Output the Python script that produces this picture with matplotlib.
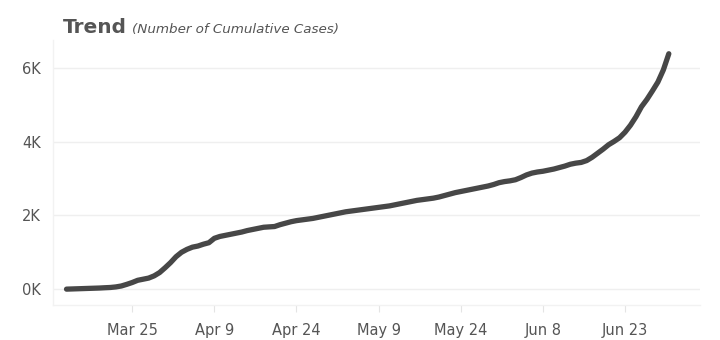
import numpy as np
import pandas as pd
import matplotlib
matplotlib.use("Agg")
import matplotlib.pyplot as plt
import matplotlib.dates as mdates
from matplotlib.ticker import FuncFormatter

# cumulative cases, one value per day from Mar 13 to Jul 1
start_date = "2020-03-13"
cases = [
    0, 5, 10, 15, 20, 25, 30, 38, 45, 60, 85, 130, 180, 240, 270, 300, 360, 450, 580,  # Mar
    720, 880, 1000, 1080, 1140, 1170, 1220, 1260, 1380, 1430, 1460, 1490, 1520, 1550, 1590,
    1620, 1650, 1680, 1690, 1700, 1750, 1790, 1830, 1860, 1880, 1900, 1920, 1950, 1980, 2010,  # Apr
    2040, 2070, 2100, 2120, 2140, 2160, 2180, 2200, 2220, 2240, 2260, 2290, 2320, 2350, 2380,
    2410, 2430, 2450, 2470, 2500, 2540, 2580, 2620, 2650, 2680, 2710, 2740, 2770, 2800, 2840, 2890,  # May
    2920, 2940, 2970, 3030, 3100, 3150, 3180, 3200, 3230, 3260, 3300, 3340, 3390, 3420, 3440,
    3490, 3580, 3690, 3800, 3920, 4010, 4110, 4260, 4450, 4680, 4950, 5150, 5380, 5620, 5950,  # Jun
    6390,  # Jul 1
]
dates = pd.date_range(start_date, periods=len(cases), freq="D")

tick_dates = pd.to_datetime(["2020-03-25", "2020-04-09", "2020-04-24", "2020-05-09",
                             "2020-05-24", "2020-06-08", "2020-06-23"])
y_ticks = [0, 2000, 4000, 6000]

fig = plt.figure(figsize=(7.2, 3.4), dpi=100)
ax = fig.add_axes([0.074, 0.103, 0.898, 0.779])

ax.plot(dates, cases, color="#474747", linewidth=3.8, solid_capstyle="round", zorder=3)

ax.set_xlim(pd.Timestamp("2020-03-10 14:00"), pd.Timestamp("2020-07-06 16:00"))
ax.set_ylim(-430, 6760)

ax.set_xticks(tick_dates)
ax.xaxis.set_major_formatter(mdates.DateFormatter("%b %-d"))
ax.set_yticks(y_ticks)
ax.yaxis.set_major_formatter(FuncFormatter(lambda v, p: f"{int(v / 1000)}K"))

ax.grid(axis="y", color="#efefef", linewidth=1)
ax.grid(axis="x", visible=False)
for s in ["top", "right"]:
    ax.spines[s].set_visible(False)
for s in ["left", "bottom"]:
    ax.spines[s].set_color("#f2f2f2")
    ax.spines[s].set_linewidth(1)

ax.tick_params(axis="x", colors="#e4e4e4", length=5, labelcolor="#555555", labelsize=10.5, pad=8)
ax.tick_params(axis="y", length=0, labelcolor="#555555", labelsize=10.5, pad=9)

fig.text(0.087, 0.918, "Trend", fontsize=14.5, fontweight="bold", color="#555555", va="center")
fig.text(0.183, 0.912, "(Number of Cumulative Cases)", fontsize=9.7, style="italic",
         color="#555555", va="center")

fig.savefig("out.png", dpi=100)
